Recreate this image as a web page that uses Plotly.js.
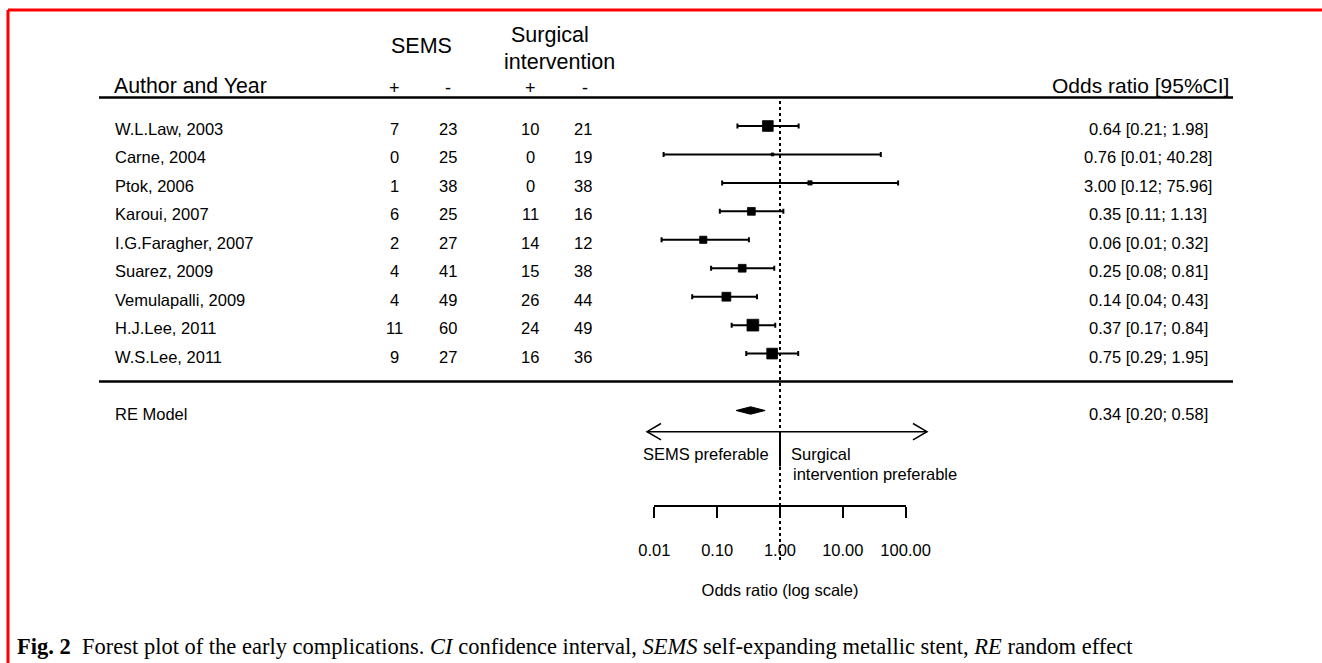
<!DOCTYPE html>
<html>
<head>
<meta charset="utf-8">
<script src="https://cdn.plot.ly/plotly-3.0.1.min.js"></script>
<style>
html,body{margin:0;padding:0;background:#fff;}
#chart{width:1322px;height:663px;}
</style>
</head>
<body>
<div id="chart"></div>
<script>
// ---------------- data ----------------
const studies = ["W.L.Law, 2003","Carne, 2004","Ptok, 2006","Karoui, 2007","I.G.Faragher, 2007","Suarez, 2009","Vemulapalli, 2009","H.J.Lee, 2011","W.S.Lee, 2011"];
const semsPos = [7,0,1,6,2,4,4,11,9];
const semsNeg = [23,25,38,25,27,41,49,60,27];
const surgPos = [10,0,0,11,14,15,26,24,16];
const surgNeg = [21,19,38,16,12,38,44,49,36];
const oddsRatio = [0.64,0.76,3.00,0.35,0.06,0.25,0.14,0.37,0.75];
const ciLower = [0.21,0.014,0.12,0.11,0.013,0.08,0.04,0.17,0.29];
const ciUpper = [1.98,40.28,75.96,1.13,0.32,0.81,0.43,0.84,1.95];
const weights = [14.9,4.0,5.9,10.8,10.0,10.8,12.3,16.3,14.9];   // % weight (square area scale)
const reLabel = "RE Model";
const reOR = 0.34, reLower = 0.20, reUpper = 0.58;
const tickVals = [0.01,0.1,1,10,100];
const tickText = ["0.01","0.10","1.00","10.00","100.00"];

// ---------------- geometry helpers ----------------
const W = 1322, H = 663;
const px = x => x / W;
const py = y => 1 - y / H;
const X1 = 780, DEC = 62.8;             // pixel of OR=1 and pixels per decade
const ROW0 = 126, ROWH = 28.45;          // pixel of first row, row spacing
const reRow = studies.length + 1;        // RE model row index
const FONT = "Liberation Sans, Arial, sans-serif";
const fs = 16.5;

const rows = studies.map((_, i) => i);

const traces = [];
// study squares with CI
traces.push({
  type: "scatter", mode: "markers",
  x: oddsRatio, y: rows,
  xaxis: "x", yaxis: "y",
  marker: { symbol: "square", color: "#000", size: weights.map(w => w * 0.72), line: { width: 0.8, color: "#000" }, opacity: 1 },
  error_x: {
    type: "data", symmetric: false,
    array: ciUpper.map((u, i) => u - oddsRatio[i]),
    arrayminus: ciLower.map((l, i) => oddsRatio[i] - l),
    color: "#000", thickness: 2, width: 2.5
  },
  hoverinfo: "skip", showlegend: false
});
// RE diamond
const dh = 0.13;
traces.push({
  type: "scatter", mode: "lines",
  x: [reLower, reOR, reUpper, reOR, reLower],
  y: [reRow, reRow - dh, reRow, reRow + dh, reRow],
  fill: "toself", fillcolor: "#000", line: { color: "#000", width: 1 },
  xaxis: "x", yaxis: "y", hoverinfo: "skip", showlegend: false
});
// invisible trace to anchor the tick axis
traces.push({
  type: "scatter", mode: "markers", x: [1], y: [0], xaxis: "x2", yaxis: "y",
  marker: { opacity: 0 }, hoverinfo: "skip", showlegend: false
});

const annotations = [];
function ann(text, x, y, xanchor, size, extra) {
  annotations.push(Object.assign({
    text: text, x: px(x), y: py(y), xref: "paper", yref: "paper",
    xanchor: xanchor, yanchor: "middle", showarrow: false,
    font: { family: FONT, size: size, color: "#000" }
  }, extra || {}));
}
function rowAnn(text, x, row, xanchor) {
  annotations.push({
    text: text, x: px(x), y: row, xref: "paper", yref: "y",
    xanchor: xanchor, yanchor: "middle", yshift: -3, showarrow: false,
    font: { family: FONT, size: fs, color: "#000" }
  });
}
// header
ann("SEMS", 421.7, 46, "center", 21.5);
ann("Surgical", 509, 35, "left", 21.5);
ann("intervention", 502, 62, "left", 21.5);
ann("Author and Year", 112, 86, "left", 21.3);
ann("+", 395, 88, "center", 18);
ann("-", 448, 88, "center", 18);
ann("+", 530, 88, "center", 18);
ann("-", 585, 88, "center", 18);
ann("Odds ratio [95%CI]", 1231, 86, "right", 21);

const colX = [395, 448, 530, 583];
studies.forEach((s, i) => {
  rowAnn(s, 113, i, "left");
  [semsPos, semsNeg, surgPos, surgNeg].forEach((arr, k) => rowAnn(String(arr[i]), colX[k], i, "center"));
  rowAnn(oddsRatio[i].toFixed(2) + " [" + ciLower[i].toFixed(2) + "; " + ciUpper[i].toFixed(2) + "]", 1148, i, "center");
});
rowAnn(reLabel, 113, reRow, "left");
rowAnn(reOR.toFixed(2) + " [" + reLower.toFixed(2) + "; " + reUpper.toFixed(2) + "]", 1148, reRow, "center");

// arrows text
ann("SEMS preferable", 771, 454, "right", fs);
ann("Surgical", 789, 454, "left", fs);
ann("intervention preferable", 791, 474, "left", fs);

// caption
annotations.push({
  text: "<b>Fig. 2</b>\u00a0\u00a0Forest plot of the early complications. <i>CI</i> confidence interval, <i>SEMS</i> self-expanding metallic stent, <i>RE</i> random effect",
  x: px(15), y: py(646), xref: "paper", yref: "paper", xanchor: "left", yanchor: "middle",
  showarrow: false, font: { family: "Liberation Serif, Times New Roman, serif", size: 22.5, color: "#000" }
});

const shapes = [
  // red frame
  { type: "line", xref: "paper", yref: "paper", x0: px(8), x1: 1, y0: py(10), y1: py(10), line: { color: "#ff0000", width: 3 } },
  { type: "line", xref: "paper", yref: "paper", x0: px(8), x1: px(8), y0: py(10), y1: 0, line: { color: "#ff0000", width: 3 } },
  // header rule and separator
  { type: "line", xref: "paper", yref: "paper", x0: px(99), x1: px(1233), y0: py(97.5), y1: py(97.5), line: { color: "#000", width: 2.5 } },
  { type: "line", xref: "paper", yref: "paper", x0: px(99), x1: px(1233), y0: py(381.5), y1: py(381.5), line: { color: "#000", width: 2.5 } },
  // dotted reference line at OR = 1
  { type: "line", xref: "x", yref: "paper", x0: 1, x1: 1, y0: py(101), y1: py(563), line: { color: "#000", width: 2, dash: "dot" } },
  // solid divider under arrows
  { type: "line", xref: "x", yref: "paper", x0: 1, x1: 1, y0: py(431.7), y1: py(466.5), line: { color: "#000", width: 2 } },
  // arrow line
  { type: "line", xref: "paper", yref: "paper", x0: px(647), x1: px(927), y0: py(431.7), y1: py(431.7), line: { color: "#000", width: 1.5 } },
  { type: "path", xref: "paper", yref: "paper",
    path: `M ${px(661)},${py(423.5)} L ${px(647)},${py(431.7)} L ${px(661)},${py(439.9)}`, line: { color: "#000", width: 1.5 } },
  { type: "path", xref: "paper", yref: "paper",
    path: `M ${px(913)},${py(423.5)} L ${px(927)},${py(431.7)} L ${px(913)},${py(439.9)}`, line: { color: "#000", width: 1.5 } }
];

const layout = {
  width: W, height: H,
  margin: { l: 0, r: 0, t: 0, b: 0 },
  paper_bgcolor: "#fff", plot_bgcolor: "rgba(0,0,0,0)",
  showlegend: false,
  xaxis: {
    type: "log", domain: [0, 1],
    range: [(0 - X1) / DEC, (W - X1) / DEC], autorange: false,
    visible: false, fixedrange: true
  },
  xaxis2: {
    type: "log", domain: [px(X1 - 2 * DEC), px(X1 + 2 * DEC)],
    range: [-2, 2], autorange: false,
    anchor: "free", position: py(506),
    showline: true, linecolor: "#000", linewidth: 2,
    ticks: "outside", ticklen: 11, tickwidth: 2, tickcolor: "#000",
    tickvals: tickVals, ticktext: tickText,
    tickfont: { family: FONT, size: fs, color: "#000" },
    ticklabelstandoff: 18,
    showgrid: false, zeroline: false, fixedrange: true,
    title: { text: "Odds ratio (log scale)", font: { family: FONT, size: fs, color: "#000" }, standoff: 26 }
  },
  yaxis: {
    domain: [0, 1],
    range: [(H - ROW0) / ROWH, -ROW0 / ROWH], autorange: false,
    visible: false, fixedrange: true
  },
  annotations: annotations,
  shapes: shapes
};

Plotly.newPlot("chart", traces, layout, { displayModeBar: false, staticPlot: true });
</script>
</body>
</html>
